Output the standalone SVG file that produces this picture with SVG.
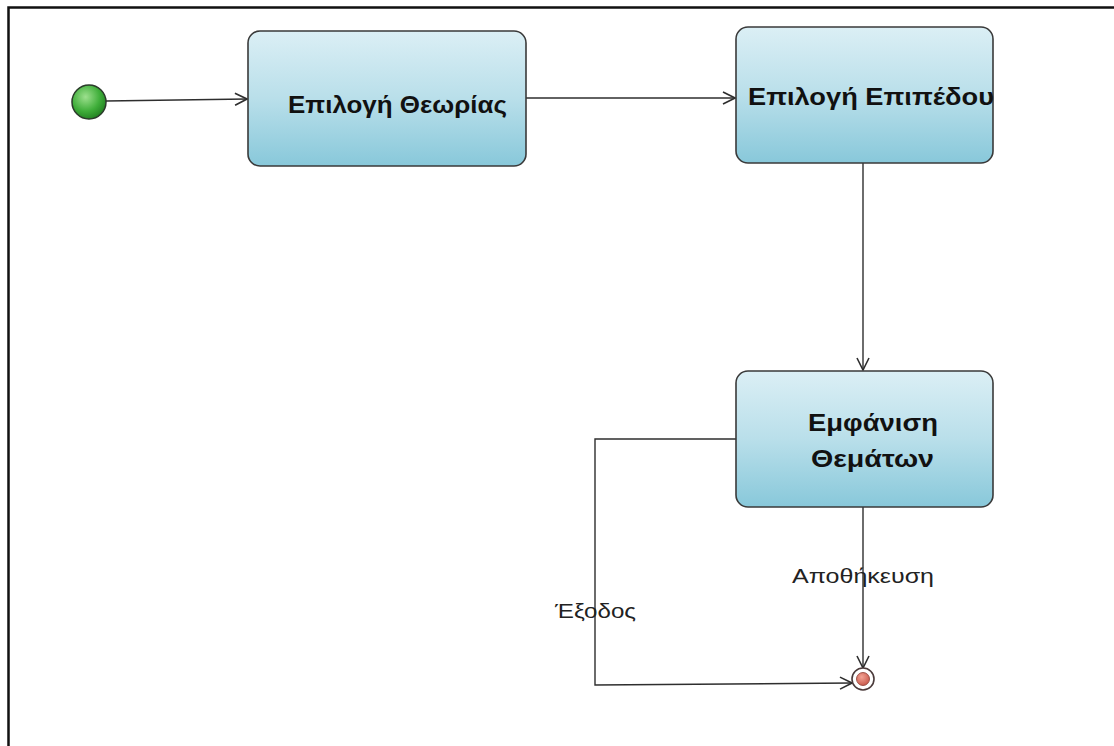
<svg xmlns="http://www.w3.org/2000/svg" width="1114" height="746" viewBox="0 0 1114 746">
  <style>
    .box { stroke: #3a3a3a; stroke-width: 1.6; fill: url(#boxFill); }
    .title { font-family: "Liberation Sans", Arial, sans-serif; font-weight: bold; font-size: 23px; fill: #111; }
    .label { font-family: "Liberation Sans", Arial, sans-serif; font-size: 21px; fill: #222; }
    .edge { fill: none; stroke: #2e2e2e; stroke-width: 1.4; marker-end: url(#openArrow); }
  </style>
  <defs>
    <linearGradient id="boxFill" x1="0" y1="0" x2="0" y2="1">
      <stop offset="0" stop-color="#dbeff5"/>
      <stop offset="0.5" stop-color="#b9dfea"/>
      <stop offset="1" stop-color="#88c8da"/>
    </linearGradient>
    <radialGradient id="startFill" cx="0.4" cy="0.35" r="0.7">
      <stop offset="0" stop-color="#9de08e"/>
      <stop offset="0.6" stop-color="#3fae3a"/>
      <stop offset="1" stop-color="#1f7d1f"/>
    </radialGradient>
    <radialGradient id="endFill" cx="0.4" cy="0.35" r="0.7">
      <stop offset="0" stop-color="#f2a394"/>
      <stop offset="1" stop-color="#c8574a"/>
    </radialGradient>
    <marker id="openArrow" viewBox="0 0 14 14" refX="13" refY="7" markerWidth="14" markerHeight="14" markerUnits="userSpaceOnUse" orient="auto">
      <path d="M1,1 L13,7 L1,13" fill="none" stroke="#2e2e2e" stroke-width="1.6"/>
    </marker>
  </defs>

  <rect width="1114" height="746" fill="#ffffff"/>
  <!-- outer frame, open at right and bottom -->
  <path d="M8.5,746 V7.5 H1114" fill="none" stroke="#111" stroke-width="2.5"/>

  <g id="connectors">
    <path class="edge" d="M106,101 L247,99"/>
    <path class="edge" d="M526,98 L735,98"/>
    <path class="edge" d="M863,163 L863,370"/>
    <path class="edge" d="M863,507 L863,668"/>
    <path class="edge" d="M736,439 H595 V685 L852,683"/>
    <text class="label" x="792" y="583" textLength="142" lengthAdjust="spacingAndGlyphs">Αποθήκευση</text>
    <text class="label" x="555" y="618" textLength="81" lengthAdjust="spacingAndGlyphs">Έξοδος</text>
  </g>

  <g id="start">
    <circle cx="89" cy="102" r="17" fill="url(#startFill)" stroke="#2b3b2b" stroke-width="1.5"/>
  </g>

  <g id="node-theory">
    <rect class="box" x="248" y="31" width="278" height="135" rx="12"/>
    <text class="title" x="288" y="113" textLength="219" lengthAdjust="spacingAndGlyphs">Επιλογή Θεωρίας</text>
  </g>

  <g id="node-level">
    <rect class="box" x="736" y="27" width="257" height="136" rx="12"/>
    <text class="title" x="748" y="105" textLength="246" lengthAdjust="spacingAndGlyphs">Επιλογή Επιπέδου</text>
  </g>

  <g id="node-topics">
    <rect class="box" x="736" y="371" width="257" height="136" rx="12"/>
    <text class="title" x="808" y="431" textLength="130" lengthAdjust="spacingAndGlyphs">Εμφάνιση</text>
    <text class="title" x="811" y="467" textLength="123" lengthAdjust="spacingAndGlyphs">Θεμάτων</text>
  </g>

  <g id="end">
    <circle cx="863" cy="679" r="11" fill="#ffffff" stroke="#4a3a3a" stroke-width="1.6"/>
    <circle cx="863" cy="679" r="6.5" fill="url(#endFill)" stroke="#8a3a30" stroke-width="0.8"/>
  </g>
</svg>
